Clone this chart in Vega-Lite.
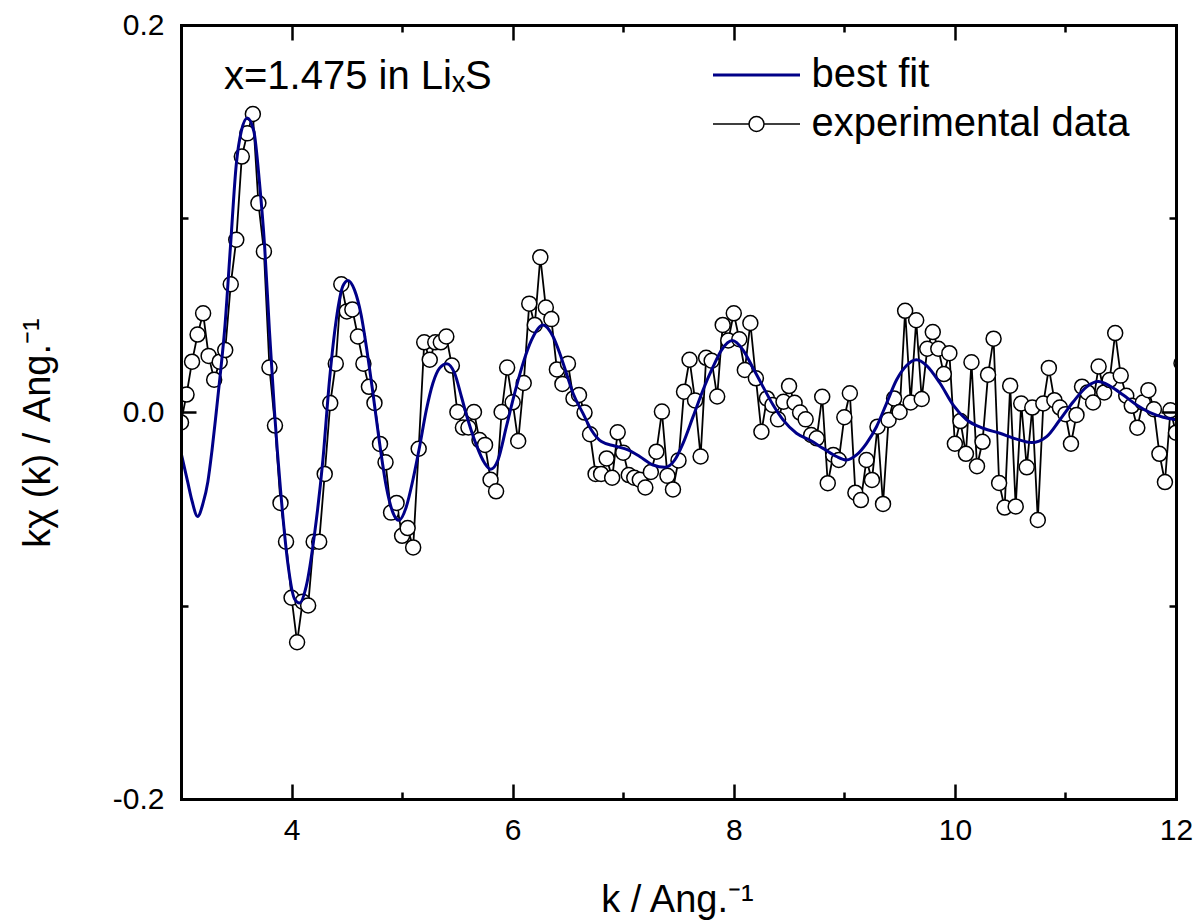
{
"$schema": "https://vega.github.io/schema/vega-lite/v6.json",
"width": 995, "height": 774,
"autosize": {"type": "none"},
"padding": {"left": 181, "top": 25, "right": 19, "bottom": 121},
"background": "white",
"config": {
 "view": {"stroke": null},
 "font": "Liberation Sans",
 "axis": {"grid": false, "tickColor": "black", "tickWidth": 2.5, "domainColor": "black", "domainWidth": 3, "domainCap": "square",
  "labelFont": "Liberation Sans", "labelFontSize": 30, "labelColor": "black", "labelFlush": false, "labelOverlap": false,
  "titleFont": "Liberation Sans", "titleFontSize": 38, "titleFontWeight": "normal", "titleColor": "black"}
},
"datasets": {
 "experimental": [
{"k":3.00,"y":-0.0054,"series":"experimental data"},{"k":3.05,"y":0.0090,"series":"experimental data"},{"k":3.10,"y":0.0260,"series":"experimental data"},{"k":3.15,"y":0.0400,"series":"experimental data"},{"k":3.20,"y":0.0510,"series":"experimental data"},{"k":3.25,"y":0.0290,"series":"experimental data"},{"k":3.30,"y":0.0167,"series":"experimental data"},{"k":3.35,"y":0.0260,"series":"experimental data"},{"k":3.40,"y":0.0320,"series":"experimental data"},{"k":3.45,"y":0.0660,"series":"experimental data"},
{"k":3.50,"y":0.0890,"series":"experimental data"},{"k":3.55,"y":0.1320,"series":"experimental data"},{"k":3.60,"y":0.1440,"series":"experimental data"},{"k":3.65,"y":0.1540,"series":"experimental data"},{"k":3.70,"y":0.1080,"series":"experimental data"},{"k":3.75,"y":0.0830,"series":"experimental data"},{"k":3.80,"y":0.0230,"series":"experimental data"},{"k":3.85,"y":-0.0070,"series":"experimental data"},{"k":3.90,"y":-0.0470,"series":"experimental data"},{"k":3.95,"y":-0.0670,"series":"experimental data"},
{"k":4.00,"y":-0.0960,"series":"experimental data"},{"k":4.05,"y":-0.1190,"series":"experimental data"},{"k":4.10,"y":-0.0980,"series":"experimental data"},{"k":4.15,"y":-0.1000,"series":"experimental data"},{"k":4.20,"y":-0.0670,"series":"experimental data"},{"k":4.25,"y":-0.0670,"series":"experimental data"},{"k":4.30,"y":-0.0320,"series":"experimental data"},{"k":4.35,"y":0.0046,"series":"experimental data"},{"k":4.40,"y":0.0250,"series":"experimental data"},{"k":4.45,"y":0.0660,"series":"experimental data"},
{"k":4.50,"y":0.0520,"series":"experimental data"},{"k":4.55,"y":0.0530,"series":"experimental data"},{"k":4.60,"y":0.0390,"series":"experimental data"},{"k":4.65,"y":0.0250,"series":"experimental data"},{"k":4.70,"y":0.0130,"series":"experimental data"},{"k":4.75,"y":0.0047,"series":"experimental data"},{"k":4.80,"y":-0.0165,"series":"experimental data"},{"k":4.85,"y":-0.0260,"series":"experimental data"},{"k":4.90,"y":-0.0520,"series":"experimental data"},{"k":4.95,"y":-0.0470,"series":"experimental data"},
{"k":5.00,"y":-0.0640,"series":"experimental data"},{"k":5.05,"y":-0.0600,"series":"experimental data"},{"k":5.10,"y":-0.0700,"series":"experimental data"},{"k":5.15,"y":-0.0190,"series":"experimental data"},{"k":5.20,"y":0.0360,"series":"experimental data"},{"k":5.25,"y":0.0270,"series":"experimental data"},{"k":5.30,"y":0.0360,"series":"experimental data"},{"k":5.35,"y":0.0360,"series":"experimental data"},{"k":5.40,"y":0.0390,"series":"experimental data"},{"k":5.45,"y":0.0240,"series":"experimental data"},
{"k":5.50,"y":0.0000,"series":"experimental data"},{"k":5.55,"y":-0.0080,"series":"experimental data"},{"k":5.60,"y":-0.0080,"series":"experimental data"},{"k":5.65,"y":0.0000,"series":"experimental data"},{"k":5.70,"y":-0.0145,"series":"experimental data"},{"k":5.75,"y":-0.0170,"series":"experimental data"},{"k":5.80,"y":-0.0350,"series":"experimental data"},{"k":5.85,"y":-0.0410,"series":"experimental data"},{"k":5.90,"y":0.0000,"series":"experimental data"},{"k":5.95,"y":0.0230,"series":"experimental data"},
{"k":6.00,"y":0.0050,"series":"experimental data"},{"k":6.05,"y":-0.0150,"series":"experimental data"},{"k":6.10,"y":0.0150,"series":"experimental data"},{"k":6.15,"y":0.0560,"series":"experimental data"},{"k":6.20,"y":0.0450,"series":"experimental data"},{"k":6.25,"y":0.0800,"series":"experimental data"},{"k":6.30,"y":0.0540,"series":"experimental data"},{"k":6.35,"y":0.0480,"series":"experimental data"},{"k":6.40,"y":0.0220,"series":"experimental data"},{"k":6.45,"y":0.0145,"series":"experimental data"},
{"k":6.50,"y":0.0250,"series":"experimental data"},{"k":6.55,"y":0.0070,"series":"experimental data"},{"k":6.60,"y":0.0088,"series":"experimental data"},{"k":6.65,"y":-0.0003,"series":"experimental data"},{"k":6.70,"y":-0.0115,"series":"experimental data"},{"k":6.75,"y":-0.0320,"series":"experimental data"},{"k":6.80,"y":-0.0320,"series":"experimental data"},{"k":6.85,"y":-0.0240,"series":"experimental data"},{"k":6.90,"y":-0.0340,"series":"experimental data"},{"k":6.95,"y":-0.0105,"series":"experimental data"},
{"k":7.00,"y":-0.0210,"series":"experimental data"},{"k":7.05,"y":-0.0326,"series":"experimental data"},{"k":7.10,"y":-0.0340,"series":"experimental data"},{"k":7.15,"y":-0.0350,"series":"experimental data"},{"k":7.20,"y":-0.0390,"series":"experimental data"},{"k":7.25,"y":-0.0310,"series":"experimental data"},{"k":7.30,"y":-0.0205,"series":"experimental data"},{"k":7.35,"y":0.0002,"series":"experimental data"},{"k":7.40,"y":-0.0330,"series":"experimental data"},{"k":7.45,"y":-0.0400,"series":"experimental data"},
{"k":7.50,"y":-0.0250,"series":"experimental data"},{"k":7.55,"y":0.0105,"series":"experimental data"},{"k":7.60,"y":0.0270,"series":"experimental data"},{"k":7.65,"y":0.0060,"series":"experimental data"},{"k":7.70,"y":-0.0230,"series":"experimental data"},{"k":7.75,"y":0.0280,"series":"experimental data"},{"k":7.80,"y":0.0265,"series":"experimental data"},{"k":7.85,"y":0.0080,"series":"experimental data"},{"k":7.90,"y":0.0450,"series":"experimental data"},{"k":7.95,"y":0.0370,"series":"experimental data"},
{"k":8.00,"y":0.0510,"series":"experimental data"},{"k":8.05,"y":0.0376,"series":"experimental data"},{"k":8.10,"y":0.0217,"series":"experimental data"},{"k":8.15,"y":0.0460,"series":"experimental data"},{"k":8.20,"y":0.0174,"series":"experimental data"},{"k":8.25,"y":-0.0102,"series":"experimental data"},{"k":8.30,"y":0.0070,"series":"experimental data"},{"k":8.35,"y":0.0036,"series":"experimental data"},{"k":8.40,"y":-0.0038,"series":"experimental data"},{"k":8.45,"y":0.0053,"series":"experimental data"},
{"k":8.50,"y":0.0134,"series":"experimental data"},{"k":8.55,"y":0.0048,"series":"experimental data"},{"k":8.60,"y":-0.0003,"series":"experimental data"},{"k":8.65,"y":-0.0038,"series":"experimental data"},{"k":8.70,"y":-0.0119,"series":"experimental data"},{"k":8.75,"y":-0.0136,"series":"experimental data"},{"k":8.80,"y":0.0079,"series":"experimental data"},{"k":8.85,"y":-0.0368,"series":"experimental data"},{"k":8.90,"y":-0.0222,"series":"experimental data"},{"k":8.95,"y":-0.0248,"series":"experimental data"},
{"k":9.00,"y":-0.0027,"series":"experimental data"},{"k":9.05,"y":0.0097,"series":"experimental data"},{"k":9.10,"y":-0.0417,"series":"experimental data"},{"k":9.15,"y":-0.0455,"series":"experimental data"},{"k":9.20,"y":-0.0248,"series":"experimental data"},{"k":9.25,"y":-0.0351,"series":"experimental data"},{"k":9.30,"y":-0.0076,"series":"experimental data"},{"k":9.35,"y":-0.0475,"series":"experimental data"},{"k":9.40,"y":-0.0041,"series":"experimental data"},{"k":9.45,"y":0.0070,"series":"experimental data"},
{"k":9.50,"y":0.0000,"series":"experimental data"},{"k":9.55,"y":0.0523,"series":"experimental data"},{"k":9.60,"y":0.0049,"series":"experimental data"},{"k":9.65,"y":0.0474,"series":"experimental data"},{"k":9.70,"y":0.0067,"series":"experimental data"},{"k":9.75,"y":0.0327,"series":"experimental data"},{"k":9.80,"y":0.0413,"series":"experimental data"},{"k":9.85,"y":0.0327,"series":"experimental data"},{"k":9.90,"y":0.0196,"series":"experimental data"},{"k":9.95,"y":0.0304,"series":"experimental data"},
{"k":10.00,"y":-0.0164,"series":"experimental data"},{"k":10.05,"y":-0.0047,"series":"experimental data"},{"k":10.10,"y":-0.0216,"series":"experimental data"},{"k":10.15,"y":0.0257,"series":"experimental data"},{"k":10.20,"y":-0.0280,"series":"experimental data"},{"k":10.25,"y":-0.0154,"series":"experimental data"},{"k":10.30,"y":0.0193,"series":"experimental data"},{"k":10.35,"y":0.0379,"series":"experimental data"},{"k":10.40,"y":-0.0367,"series":"experimental data"},{"k":10.45,"y":-0.0494,"series":"experimental data"},
{"k":10.50,"y":0.0136,"series":"experimental data"},{"k":10.55,"y":-0.0488,"series":"experimental data"},{"k":10.60,"y":0.0044,"series":"experimental data"},{"k":10.65,"y":-0.0286,"series":"experimental data"},{"k":10.70,"y":0.0023,"series":"experimental data"},{"k":10.75,"y":-0.0558,"series":"experimental data"},{"k":10.80,"y":0.0044,"series":"experimental data"},{"k":10.85,"y":0.0228,"series":"experimental data"},{"k":10.90,"y":0.0061,"series":"experimental data"},{"k":10.95,"y":0.0023,"series":"experimental data"},
{"k":11.00,"y":-0.0011,"series":"experimental data"},{"k":11.05,"y":-0.0164,"series":"experimental data"},{"k":11.10,"y":-0.0015,"series":"experimental data"},{"k":11.15,"y":0.0131,"series":"experimental data"},{"k":11.20,"y":0.0101,"series":"experimental data"},{"k":11.25,"y":0.0049,"series":"experimental data"},{"k":11.30,"y":0.0235,"series":"experimental data"},{"k":11.35,"y":0.0101,"series":"experimental data"},{"k":11.40,"y":0.0165,"series":"experimental data"},{"k":11.45,"y":0.0408,"series":"experimental data"},
{"k":11.50,"y":0.0188,"series":"experimental data"},{"k":11.55,"y":0.0084,"series":"experimental data"},{"k":11.60,"y":0.0032,"series":"experimental data"},{"k":11.65,"y":-0.0081,"series":"experimental data"},{"k":11.70,"y":0.0049,"series":"experimental data"},{"k":11.75,"y":0.0113,"series":"experimental data"},{"k":11.80,"y":0.0014,"series":"experimental data"},{"k":11.85,"y":-0.0216,"series":"experimental data"},{"k":11.90,"y":-0.0362,"series":"experimental data"},{"k":11.95,"y":0.0009,"series":"experimental data"},
{"k":12.00,"y":-0.0107,"series":"experimental data"},{"k":12.05,"y":0.0252,"series":"experimental data"}
 ],
 "fit": [
{"k":3.000,"y":-0.0210,"series":"best fit"},{"k":3.060,"y":-0.0360,"series":"best fit"},{"k":3.100,"y":-0.0460,"series":"best fit"},{"k":3.150,"y":-0.0540,"series":"best fit"},{"k":3.200,"y":-0.0470,"series":"best fit"},{"k":3.243,"y":-0.0360,"series":"best fit"},{"k":3.280,"y":-0.0200,"series":"best fit"},{"k":3.319,"y":0.0000,"series":"best fit"},{"k":3.360,"y":0.0220,"series":"best fit"},{"k":3.394,"y":0.0420,"series":"best fit"},
{"k":3.448,"y":0.0860,"series":"best fit"},{"k":3.500,"y":0.1280,"series":"best fit"},{"k":3.545,"y":0.1450,"series":"best fit"},{"k":3.600,"y":0.1520,"series":"best fit"},{"k":3.659,"y":0.1450,"series":"best fit"},{"k":3.710,"y":0.1185,"series":"best fit"},{"k":3.756,"y":0.0860,"series":"best fit"},{"k":3.800,"y":0.0420,"series":"best fit"},{"k":3.846,"y":0.0000,"series":"best fit"},{"k":3.900,"y":-0.0400,"series":"best fit"},
{"k":3.967,"y":-0.0785,"series":"best fit"},{"k":4.027,"y":-0.0966,"series":"best fit"},{"k":4.072,"y":-0.0987,"series":"best fit"},{"k":4.133,"y":-0.0900,"series":"best fit"},{"k":4.208,"y":-0.0630,"series":"best fit"},{"k":4.283,"y":-0.0250,"series":"best fit"},{"k":4.344,"y":0.0170,"series":"best fit"},{"k":4.405,"y":0.0480,"series":"best fit"},{"k":4.464,"y":0.0650,"series":"best fit"},{"k":4.510,"y":0.0680,"series":"best fit"},
{"k":4.570,"y":0.0630,"series":"best fit"},{"k":4.630,"y":0.0500,"series":"best fit"},{"k":4.676,"y":0.0340,"series":"best fit"},{"k":4.736,"y":0.0098,"series":"best fit"},{"k":4.796,"y":-0.0160,"series":"best fit"},{"k":4.857,"y":-0.0386,"series":"best fit"},{"k":4.917,"y":-0.0520,"series":"best fit"},{"k":4.971,"y":-0.0560,"series":"best fit"},{"k":5.038,"y":-0.0490,"series":"best fit"},{"k":5.098,"y":-0.0350,"series":"best fit"},
{"k":5.158,"y":-0.0180,"series":"best fit"},{"k":5.219,"y":0.0010,"series":"best fit"},{"k":5.279,"y":0.0150,"series":"best fit"},{"k":5.339,"y":0.0227,"series":"best fit"},{"k":5.405,"y":0.0250,"series":"best fit"},{"k":5.475,"y":0.0200,"series":"best fit"},{"k":5.536,"y":0.0080,"series":"best fit"},{"k":5.595,"y":-0.0040,"series":"best fit"},{"k":5.671,"y":-0.0170,"series":"best fit"},{"k":5.747,"y":-0.0265,"series":"best fit"},
{"k":5.801,"y":-0.0296,"series":"best fit"},{"k":5.867,"y":-0.0248,"series":"best fit"},{"k":5.943,"y":-0.0076,"series":"best fit"},{"k":6.018,"y":0.0097,"series":"best fit"},{"k":6.093,"y":0.0250,"series":"best fit"},{"k":6.169,"y":0.0370,"series":"best fit"},{"k":6.274,"y":0.0450,"series":"best fit"},{"k":6.365,"y":0.0390,"series":"best fit"},{"k":6.425,"y":0.0305,"series":"best fit"},{"k":6.486,"y":0.0200,"series":"best fit"},
{"k":6.546,"y":0.0097,"series":"best fit"},{"k":6.636,"y":-0.0007,"series":"best fit"},{"k":6.712,"y":-0.0093,"series":"best fit"},{"k":6.803,"y":-0.0153,"series":"best fit"},{"k":6.923,"y":-0.0176,"series":"best fit"},{"k":7.043,"y":-0.0196,"series":"best fit"},{"k":7.149,"y":-0.0230,"series":"best fit"},{"k":7.270,"y":-0.0274,"series":"best fit"},{"k":7.376,"y":-0.0286,"series":"best fit"},{"k":7.466,"y":-0.0248,"series":"best fit"},
{"k":7.541,"y":-0.0162,"series":"best fit"},{"k":7.632,"y":-0.0024,"series":"best fit"},{"k":7.722,"y":0.0114,"series":"best fit"},{"k":7.813,"y":0.0234,"series":"best fit"},{"k":7.889,"y":0.0320,"series":"best fit"},{"k":7.988,"y":0.0369,"series":"best fit"},{"k":8.084,"y":0.0320,"series":"best fit"},{"k":8.175,"y":0.0226,"series":"best fit"},{"k":8.265,"y":0.0130,"series":"best fit"},{"k":8.356,"y":0.0036,"series":"best fit"},
{"k":8.446,"y":-0.0041,"series":"best fit"},{"k":8.567,"y":-0.0110,"series":"best fit"},{"k":8.688,"y":-0.0145,"series":"best fit"},{"k":8.808,"y":-0.0188,"series":"best fit"},{"k":8.929,"y":-0.0230,"series":"best fit"},{"k":9.020,"y":-0.0248,"series":"best fit"},{"k":9.110,"y":-0.0222,"series":"best fit"},{"k":9.201,"y":-0.0162,"series":"best fit"},{"k":9.291,"y":-0.0076,"series":"best fit"},{"k":9.382,"y":0.0045,"series":"best fit"},
{"k":9.472,"y":0.0165,"series":"best fit"},{"k":9.563,"y":0.0240,"series":"best fit"},{"k":9.653,"y":0.0270,"series":"best fit"},{"k":9.744,"y":0.0240,"series":"best fit"},{"k":9.864,"y":0.0150,"series":"best fit"},{"k":9.985,"y":0.0036,"series":"best fit"},{"k":10.106,"y":-0.0040,"series":"best fit"},{"k":10.256,"y":-0.0084,"series":"best fit"},{"k":10.407,"y":-0.0110,"series":"best fit"},{"k":10.558,"y":-0.0140,"series":"best fit"},
{"k":10.694,"y":-0.0158,"series":"best fit"},{"k":10.830,"y":-0.0127,"series":"best fit"},{"k":10.950,"y":-0.0040,"series":"best fit"},{"k":11.071,"y":0.0053,"series":"best fit"},{"k":11.192,"y":0.0130,"series":"best fit"},{"k":11.297,"y":0.0157,"series":"best fit"},{"k":11.403,"y":0.0134,"series":"best fit"},{"k":11.523,"y":0.0088,"series":"best fit"},{"k":11.644,"y":0.0036,"series":"best fit"},{"k":11.765,"y":-0.0003,"series":"best fit"},
{"k":11.885,"y":-0.0027,"series":"best fit"},{"k":12.000,"y":-0.0040,"series":"best fit"}
 ],
 "note": [{"label": "x=1.475 in LiₓS"}]
},
"resolve": {"axis": {"x": "independent", "y": "independent"}},
"layer": [
 {
  "data": {"name": "experimental"},
  "mark": {"type": "line", "strokeWidth": 1.8, "clip": true},
  "encoding": {
   "x": {"field": "k", "type": "quantitative", "scale": {"domain": [3, 12], "nice": false, "zero": false},
    "axis": {"orient": "bottom", "values": [4, 6, 8, 10, 12], "tickSize": -15, "labelPadding": 31, "labelFontSize": 30, "domain": true, "zindex": 1,
     "title": "k / Ang.⁻¹", "titleX": 496, "titleY": 112, "titleBaseline": "alphabetic", "titleAlign": "center", "titleAngle": 0}},
   "y": {"field": "y", "type": "quantitative", "scale": {"domain": [-0.2, 0.2], "nice": false, "zero": false},
    "axis": {"orient": "left", "values": [-0.2, 0, 0.2], "tickSize": -15, "labelPadding": 32, "labelFontSize": 30, "domain": true, "zindex": 1,
     "labelExpr": "datum.value < 0 ? '-' + format(-datum.value, '.1f') : format(datum.value, '.1f')",
     "title": "kχ (k) / Ang.⁻¹", "titleX": -131.5, "titleY": 407.5, "titleAngle": 270, "titleBaseline": "alphabetic", "titleAlign": "center"}},
   "color": {"field": "series", "type": "nominal",
    "scale": {"domain": ["best fit", "experimental data"], "range": ["#000088", "#000000"]},
    "legend": {"orient": "none", "legendX": 555.5, "legendY": 30, "padding": 0, "title": null, "direction": "vertical",
     "labelFont": "Liberation Sans", "labelFontSize": 40, "labelColor": "black", "labelOffset": 35, "rowPadding": 9,
     "symbolSize": 400, "symbolStrokeWidth": 1.5, "labelLimit": 450,
     "encode": {"symbols": {"update": {
       "shape": {"signal": "datum.value === 'best fit' ? 'M-4.35,0L4.35,0' : 'M-4.35,0L-0.75,0M0.75,0L4.35,0M0.75,0A0.75,0.75 0 1 1 -0.75,0A0.75,0.75 0 1 1 0.75,0Z'"},
       "strokeWidth": {"signal": "datum.value === 'best fit' ? 3 : 1.5"},
       "fill": {"value": "white"},
       "opacity": {"value": 1}}}}}}
  }
 },
 {
  "data": {"name": "experimental"},
  "mark": {"type": "point", "shape": "circle", "filled": true, "fill": "white", "stroke": "black", "strokeWidth": 1.5, "size": 225, "opacity": 1, "clip": true},
  "encoding": {
   "x": {"field": "k", "type": "quantitative", "scale": {"domain": [3, 12], "nice": false, "zero": false},
    "axis": {"orient": "bottom", "values": [3, 5, 7, 9, 11], "tickSize": -7, "labels": false, "domain": false, "title": null, "zindex": 1}},
   "y": {"field": "y", "type": "quantitative", "scale": {"domain": [-0.2, 0.2], "nice": false, "zero": false},
    "axis": {"orient": "left", "values": [-0.1, 0.1], "tickSize": -7, "labels": false, "domain": false, "title": null, "zindex": 1}}
  }
 },
 {
  "data": {"name": "fit"},
  "mark": {"type": "line", "strokeWidth": 3, "interpolate": "monotone", "clip": true},
  "encoding": {
   "x": {"field": "k", "type": "quantitative", "scale": {"domain": [3, 12], "nice": false, "zero": false},
    "axis": {"orient": "top", "values": [4, 6, 8, 10, 12], "tickSize": -15, "labels": false, "domain": true, "title": null, "zindex": 1}},
   "y": {"field": "y", "type": "quantitative", "scale": {"domain": [-0.2, 0.2], "nice": false, "zero": false},
    "axis": {"orient": "right", "values": [-0.2, 0, 0.2], "tickSize": -15, "labels": false, "domain": true, "title": null, "zindex": 1}},
   "color": {"field": "series", "type": "nominal"}
  }
 },
 {
  "data": {"name": "experimental"},
  "mark": {"type": "point", "opacity": 0},
  "encoding": {
   "x": {"field": "k", "type": "quantitative", "scale": {"domain": [3, 12], "nice": false, "zero": false},
    "axis": {"orient": "top", "values": [3, 5, 7, 9, 11], "tickSize": -7, "labels": false, "domain": false, "title": null, "zindex": 1}},
   "y": {"field": "y", "type": "quantitative", "scale": {"domain": [-0.2, 0.2], "nice": false, "zero": false},
    "axis": {"orient": "right", "values": [-0.1, 0.1], "tickSize": -7, "labels": false, "domain": false, "title": null, "zindex": 1}}
  }
 },
 {
  "data": {"name": "note"},
  "mark": {"type": "text", "align": "left", "baseline": "alphabetic", "font": "Liberation Sans", "fontSize": 40, "color": "black"},
  "encoding": {
   "x": {"datum": 3.389, "type": "quantitative", "axis": null},
   "y": {"datum": 0.167, "type": "quantitative", "axis": null},
   "text": {"field": "label"}
  }
 }
]
}
